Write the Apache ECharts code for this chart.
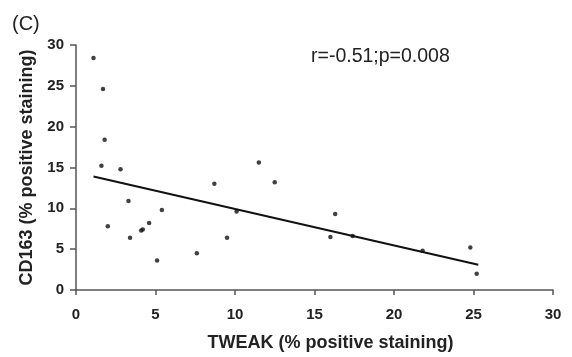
<!DOCTYPE html>
<html>
<head>
<meta charset="utf-8">
<style>
  html, body { margin: 0; padding: 0; background: #fff; }
  #chart { width: 572px; height: 357px; }
</style>
<script src="https://cdn.jsdelivr.net/npm/echarts@6/dist/echarts.min.js"></script>
</head>
<body>
<div id="chart"></div>
<script>
// TWEAK vs CD163 (% positive staining)
const tweak = [1.1, 1.7, 1.8, 1.6, 2.8, 11.5, 2.0, 3.3, 3.4, 4.2, 4.1, 4.6, 5.4, 5.1, 7.6, 8.7, 9.5, 10.1, 12.5, 16.3, 16.0, 17.4, 21.8, 24.8, 25.2]
const cd163 = [28.4, 24.6, 18.4, 15.2, 14.8, 15.6, 7.8, 10.9, 6.4, 7.4, 7.3, 8.2, 9.8, 3.6, 4.5, 13.0, 6.4, 9.6, 13.2, 9.3, 6.5, 6.6, 4.8, 5.2, 2.0]

// regression line end points
const fitX = [1.1, 25.3]
const fitY = [13.9, 3.1]

const xTicks = [0, 5, 10, 15, 20, 25, 30]
const yTicks = [0, 5, 10, 15, 20, 25, 30]

const statText = 'r=-0.51;p=0.008'
const panelLabel = '(C)'

const chart = echarts.init(document.getElementById('chart'))

const axisColor = '#555'
const textColor = '#222'
const fontFamily = 'Liberation Sans, Arial, sans-serif'

const option = {
  animation: false,
  backgroundColor: '#fff',
  grid: {
    left: 76,
    right: 19,
    top: 45,
    bottom: 67
  },
  xAxis: {
    type: 'value',
    min: xTicks[0],
    max: xTicks[xTicks.length - 1],
    interval: 5,
    name: 'TWEAK (% positive staining)',
    nameLocation: 'middle',
    nameGap: 44,
    nameTextStyle: {
      fontFamily,
      fontSize: 18,
      fontWeight: 'bold',
      color: textColor,
      padding: [0, 0, 0, 32]
    },
    axisLine: { lineStyle: { color: axisColor, width: 1.5 } },
    axisTick: { show: true, inside: false, length: 5, lineStyle: { color: axisColor, width: 1.5 } },
    axisLabel: {
      fontFamily,
      fontSize: 15,
      fontWeight: 'bold',
      color: textColor,
      margin: 17
    },
    splitLine: { show: false }
  },
  yAxis: {
    type: 'value',
    min: yTicks[0],
    max: yTicks[yTicks.length - 1],
    interval: 5,
    name: 'CD163 (% positive staining)',
    nameLocation: 'middle',
    nameGap: 40,
    nameTextStyle: {
      fontFamily,
      fontSize: 18,
      fontWeight: 'bold',
      color: textColor
    },
    axisLine: { show: true, lineStyle: { color: axisColor, width: 1.5 } },
    axisTick: { show: true, inside: false, length: 6, lineStyle: { color: axisColor, width: 1.5 } },
    axisLabel: {
      fontFamily,
      fontSize: 15,
      fontWeight: 'bold',
      color: textColor,
      margin: 12
    },
    splitLine: { show: false }
  },
  series: [
    {
      name: 'samples',
      type: 'scatter',
      data: tweak.map((x, i) => [x, cd163[i]]),
      symbol: 'circle',
      symbolSize: 4.5,
      itemStyle: { color: '#111' },
      z: 3
    },
    {
      name: 'fit',
      type: 'line',
      data: fitX.map((x, i) => [x, fitY[i]]),
      showSymbol: false,
      lineStyle: { color: '#111', width: 2 },
      z: 2
    }
  ],
  graphic: [
    {
      type: 'text',
      left: 12,
      top: 14,
      style: {
        text: panelLabel,
        fontFamily,
        fontSize: 20,
        fill: textColor
      }
    },
    {
      type: 'text',
      left: 311,
      top: 47,
      style: {
        text: statText,
        fontFamily,
        fontSize: 19.5,
        fill: textColor
      }
    }
  ]
}

chart.setOption(option)
</script>
</body>
</html>
